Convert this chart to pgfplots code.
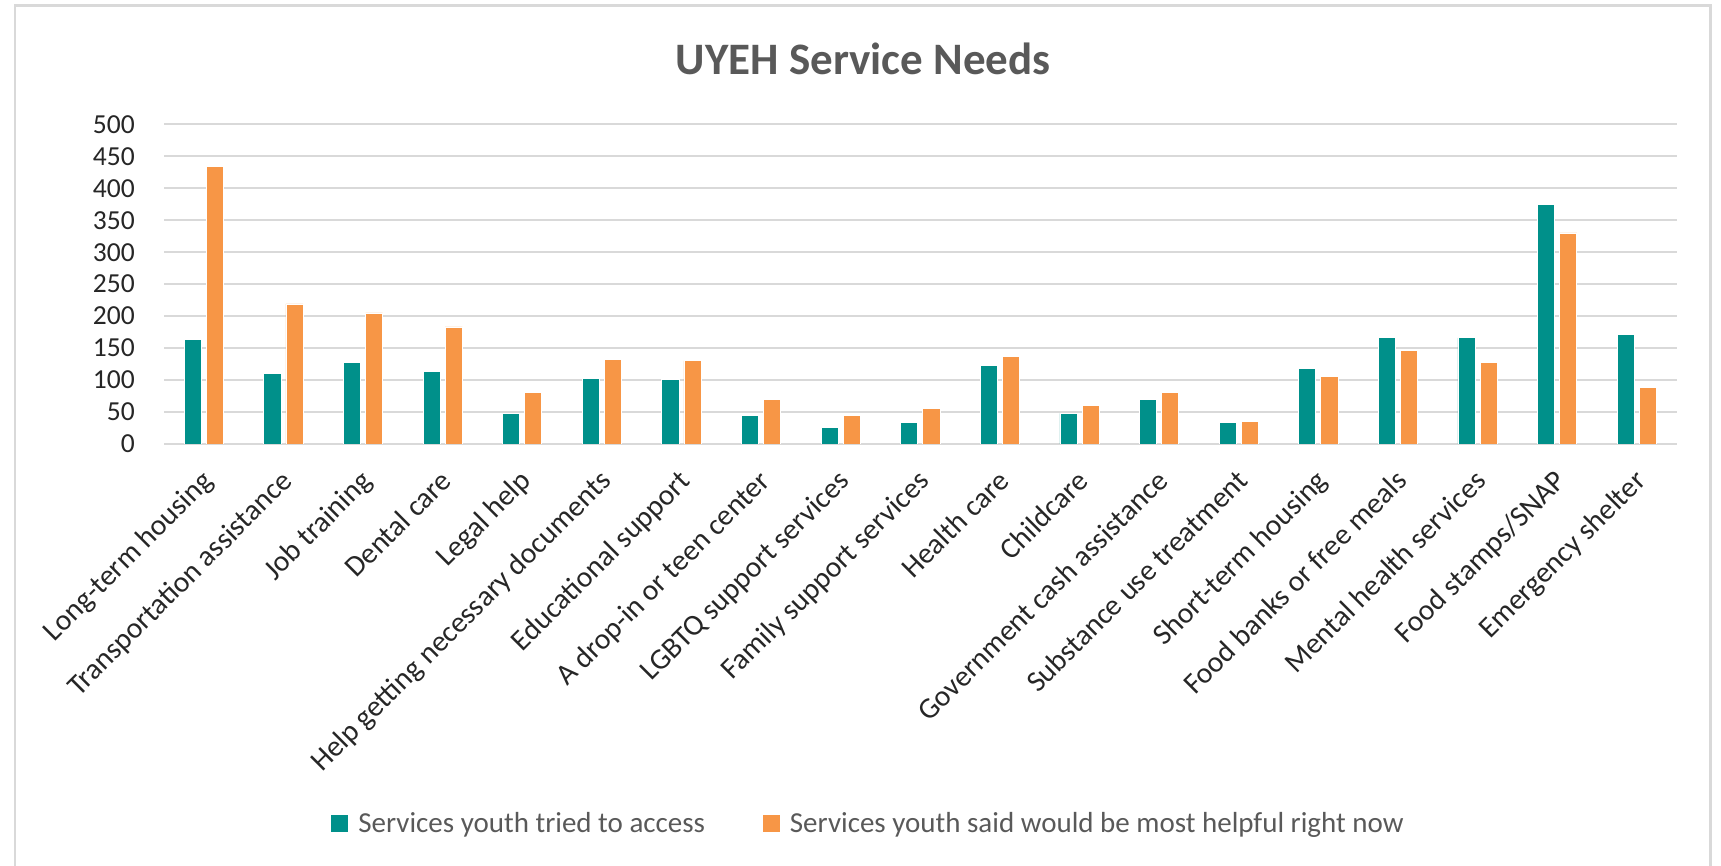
\documentclass[border=0pt]{standalone}
\usepackage{fontspec}
\setmainfont{Carlito}
\usepackage{pgfplots}
\usepackage{pgfplotstable}
\pgfplotsset{compat=1.18}
\definecolor{tealbar}{HTML}{00908A}
\definecolor{orangebar}{HTML}{F79646}
\definecolor{gridgray}{HTML}{D9D9D9}
\definecolor{txtgray}{HTML}{595959}
\definecolor{ticktxt}{HTML}{262626}

\pgfplotstableread{
idx tried helpful
0 164 434
1 110 219
2 127 205
3 113 183
4 48 81
5 103 132
6 101 130
7 45 69
8 26 45
9 33 55
10 123 137
11 48 60
12 69 81
13 33 35
14 118 105
15 166 147
16 166 127
17 374 330
18 171 88
}\datatable

\begin{document}
\begin{tikzpicture}
\path[use as bounding box] (0pt,0pt) rectangle (1721pt,866pt);
\draw[gridgray, line width=2.5pt] (15pt,-5pt) -- (15pt,860.3pt) -- (1710.7pt,860.3pt) -- (1710.7pt,-5pt);
\begin{axis}[
  at={(164pt,422pt)}, anchor=south west,
  scale only axis, width=1512.6pt, height=319.7pt,
  xmin=-0.5, xmax=18.5, ymin=0, ymax=500,
  ytick={0,50,...,500},
  xtick={0,...,18},
  xticklabels={Long-term housing, Transportation assistance, Job training, Dental care, Legal help, Help getting necessary documents, Educational support, A drop-in or teen center, LGBTQ support services, Family support services, Health care, Childcare, Government cash assistance, Substance use treatment, Short-term housing, Food banks or free meals, Mental health services, Food stamps/SNAP, Emergency shelter},
  axis line style={draw=none},
  major tick length=0pt,
  ymajorgrids,
  grid style={gridgray, line width=2pt},
  /pgf/number format/assume math mode=true,
  yticklabel style={font=\fontsize{27.5}{33}\selectfont, text=ticktxt, anchor=east, inner sep=0pt, xshift=-29pt},
  xticklabel style={font=\fontsize{29.5}{35}\selectfont, text=ticktxt, inner sep=0pt, xshift=-4pt, yshift=-24pt, rotate=45, anchor=north east},
  title={UYEH Service Needs},
  title style={at={(0.4623,1.137)}, anchor=base, yshift=0pt, font=\fontsize{45}{54}\selectfont\bfseries, text=txtgray},
  legend columns=2,
  legend style={draw=none, fill=none, at={(0.4658,-1.1864)}, anchor=center,
    font=\fontsize{29}{35}\selectfont, text=txtgray,
    /tikz/every odd column/.append style={column sep=8pt},
    /tikz/every even column/.append style={column sep=56pt}},
]
\addplot[ybar, bar width=0.215, bar shift=-0.139, fill=tealbar, draw=white, line width=0.8pt,
  legend image code/.code={\fill[tealbar] (0pt,-8pt) rectangle (16pt,8pt);}]
  table[x=idx, y=tried]{\datatable};
\addplot[ybar, bar width=0.215, bar shift=0.139, fill=orangebar, draw=white, line width=0.8pt,
  legend image code/.code={\fill[orangebar] (0pt,-8pt) rectangle (16pt,8pt);}]
  table[x=idx, y=helpful]{\datatable};
\legend{Services youth tried to access, Services youth said would be most helpful right now}
\end{axis}
\end{tikzpicture}
\end{document}
